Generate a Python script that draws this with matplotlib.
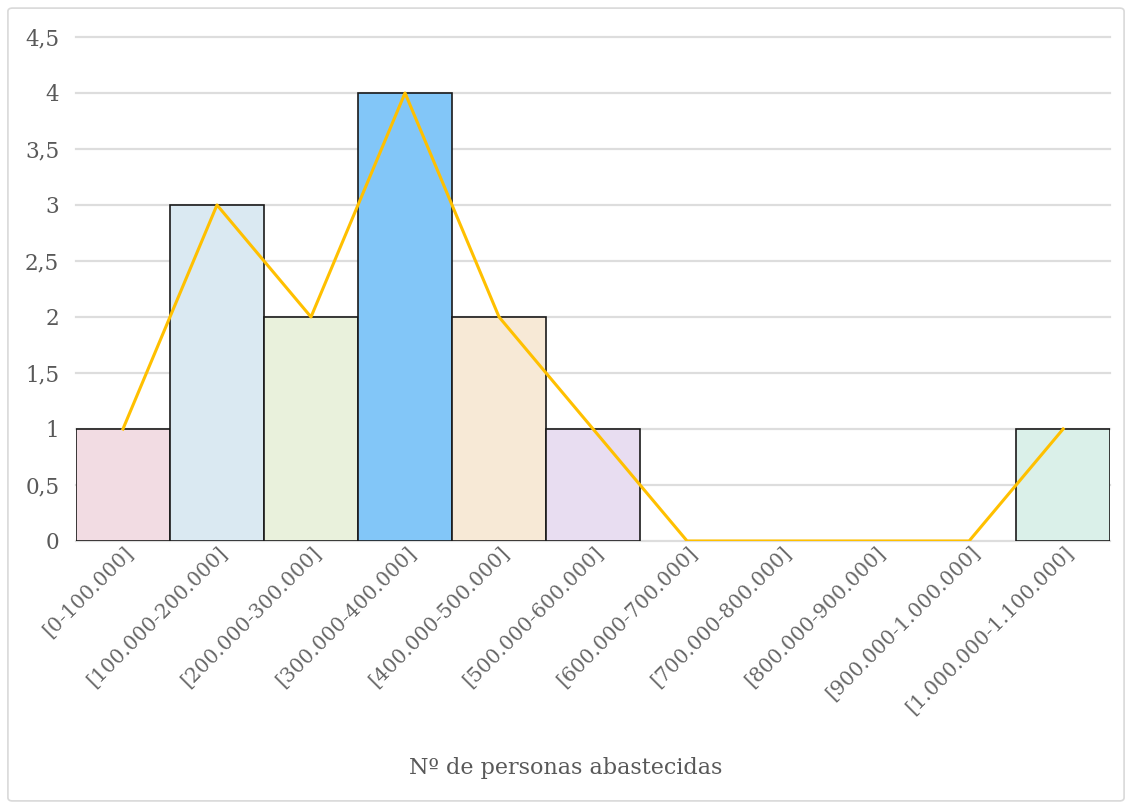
import matplotlib.pyplot as plt
from matplotlib.patches import FancyBboxPatch
from matplotlib.transforms import ScaledTranslation
import numpy as np

rangos = ['[0-100.000]', '[100.000-200.000]', '[200.000-300.000]', '[300.000-400.000]',
          '[400.000-500.000]', '[500.000-600.000]', '[600.000-700.000]', '[700.000-800.000]',
          '[800.000-900.000]', '[900.000-1.000.000]', '[1.000.000-1.100.000]']
frecuencias = [1, 3, 2, 4, 2, 1, 0, 0, 0, 0, 1]
colores = ['#F2DCE3', '#DAE9F2', '#E9F1DC', '#82C6F8', '#F7E9D6', '#E8DDF1',
           '#FFFFFF', '#FFFFFF', '#FFFFFF', '#FFFFFF', '#DAF0E9']
yticks = [0, 0.5, 1, 1.5, 2, 2.5, 3, 3.5, 4, 4.5]

fig = plt.figure(figsize=(11.32, 8.09), dpi=100)
ax = fig.add_axes([0.0671, 0.3313, 0.9136, 0.6230])

# marco exterior del grafico
fig.patches.append(FancyBboxPatch((0.007, 0.010), 0.986, 0.980, boxstyle='round,pad=0,rounding_size=0.004',
                                  transform=fig.transFigure, fill=False, edgecolor='#D9D9D9', linewidth=1.2))

x = np.arange(len(rangos))
for i, (f, c) in enumerate(zip(frecuencias, colores)):
    if f > 0:
        ax.bar(x[i], f, width=1.0, color=c, edgecolor='#1a1a1a', linewidth=1.2, zorder=2)
ax.plot(x, frecuencias, color='#FFC000', linewidth=2.2, zorder=3)

ax.set_xlim(-0.5, len(rangos) - 0.5)
ax.set_ylim(0, 4.5)
ax.set_yticks(yticks)
ax.set_yticklabels([('%g' % v).replace('.', ',') for v in yticks],
                   fontsize=15.5, color='#595959', family='DejaVu Serif')
ax.yaxis.grid(True, color='#DDDDDD', linewidth=1.6, zorder=0)
for g in ax.get_ygridlines():
    g.set_clip_on(False)
ax.set_axisbelow(True)
for s in ax.spines.values():
    s.set_visible(False)
ax.tick_params(axis='both', length=0)
ax.tick_params(axis='y', pad=12)

ax.set_xticks(x)
ax.set_xticklabels(rangos, rotation=45, ha='right', rotation_mode='anchor',
                   fontsize=14.5, color='#666666', family='DejaVu Serif')
off = ScaledTranslation(0.01, 0.03, fig.dpi_scale_trans)
for t in ax.get_xticklabels():
    t.set_transform(t.get_transform() + off)

fig.text(0.5, 0.051, 'Nº de personas abastecidas', ha='center', va='center',
         fontsize=16, color='#595959', family='DejaVu Serif')

fig.savefig('out.png', dpi=100)
